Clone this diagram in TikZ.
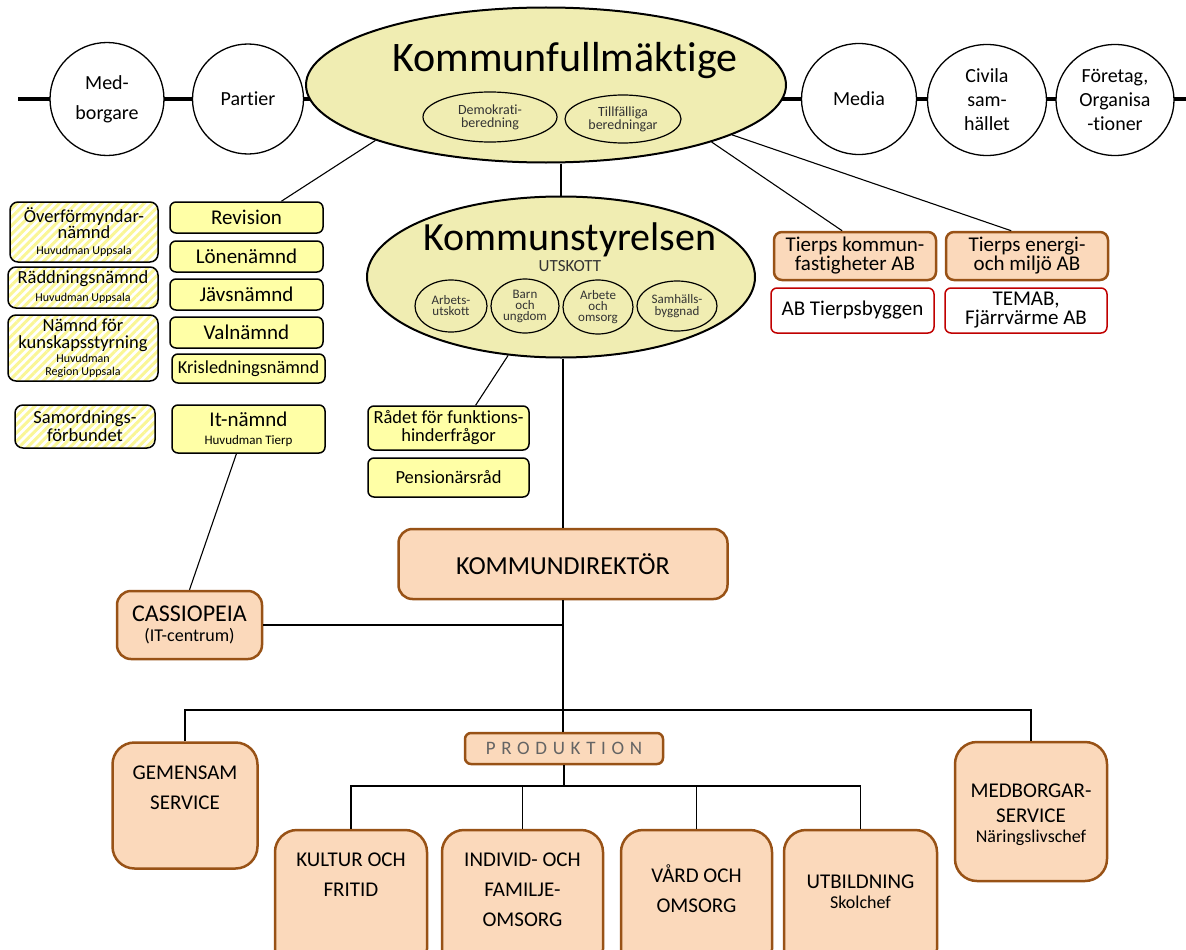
\documentclass[tikz,border=0pt]{standalone}
\usepackage{fontspec}
\setmainfont{Carlito}[Ligatures=NoCommon]
\usepackage{tikz}
\usetikzlibrary{shapes.geometric,patterns.meta}
\pgfdeclarelayer{background}
\pgfsetlayers{background,main}

\newcommand{\fsz}[2]{\fontsize{#1}{#2}\selectfont}

\definecolor{kfyellow}{RGB}{240,237,178}
\definecolor{boxyellow}{RGB}{255,255,166}
\definecolor{stripeyellow}{RGB}{250,246,150}
\definecolor{peach}{RGB}{251,217,187}
\definecolor{orgbrown}{RGB}{152,82,22}
\definecolor{subred}{RGB}{192,0,0}
\definecolor{prodgray}{RGB}{100,100,100}

\tikzdeclarepattern{
  name=hatch,
  type=uncolored,
  bounding box={(0pt,-2pt) and (6pt,2pt)},
  tile size={(6pt,6pt)},
  tile transformation={rotate=45},
  code={\draw[line width=3pt] (0pt,0pt) -- (6pt,0pt);}
}

\tikzset{
  outer/.style={ellipse, draw, line width=1.3pt, fill=white, inner sep=0,
    minimum width=116pt, minimum height=111pt, align=center, font=\fsz{20}{24}},
  council/.style={ellipse, draw, line width=2pt, fill=kfyellow, inner sep=0},
  subcom/.style={ellipse, draw, line width=1.2pt, fill=kfyellow, inner sep=0,
    align=center, text=black!80},
  nbox/.style={rectangle, rounded corners=6pt, draw, line width=1.5pt, fill=boxyellow,
    minimum width=153pt, minimum height=31pt, inner sep=0, align=center, font=\fsz{21}{21}},
  hatchbox/.style={rectangle, rounded corners=8pt, draw, line width=1.5pt,
    pattern=hatch, pattern color=stripeyellow, minimum width=150pt, inner sep=0,
    align=center, font=\fsz{18.5}{16.5}},
  orgbox/.style={rectangle, rounded corners=10pt, draw=orgbrown, line width=2.5pt,
    fill=peach, inner sep=0, align=center},
  unitbox/.style={orgbox, rounded corners=22pt, minimum height=141pt},
  subsid/.style={rectangle, rounded corners=6pt, draw=subred, line width=1.5pt, fill=white,
    minimum width=162pt, minimum height=45pt, inner sep=0, align=center, font=\fsz{21}{19}},
  unittext/.style={align=center, font=\fsz{21}{30}},
  link/.style={line width=1.1pt}
}

\begin{document}
\begin{tikzpicture}[x=1pt,y=-1pt]
\useasboundingbox (0,0) rectangle (1186,950);
\clip (0,0) rectangle (1186,950);

\coordinate (lstart) at (18,99);
\coordinate (rend) at (1186,99);
\node[outer, minimum width=114pt, minimum height=113pt, font=\fsz{20}{30}] (medb) at (107,99) {Med-\\borgare};
\node[outer, minimum width=111pt, minimum height=110pt] (part) at (248,99) {Partier};
\node[outer, minimum width=115pt] (media) at (859,99) {Media};
\node[outer, minimum width=119pt] (civ) at (987,100) {Civila\\sam-\\hället};
\node[outer, minimum width=118pt] (ftg) at (1115,100) {Företag,\\Organisa\\-tioner};

\node[council, minimum width=480pt, minimum height=155pt] (kf) at (546,85) {};
\node[anchor=base, font=\fsz{42}{42}] (kf-title) at (565,72) {Kommunfullmäktige};
\node[subcom, minimum width=134pt, minimum height=50pt, font=\fsz{14}{13}] (demo) at (490,117) {Demokrati-\\beredning};
\node[subcom, minimum width=116pt, minimum height=48pt, font=\fsz{14}{13}] (tillf) at (623,119) {Tillfälliga\\beredningar};

\node[council, minimum width=388pt, minimum height=161pt] (ks) at (561,277) {};
\node[anchor=base, font=\fsz{40}{40}] (ks-title) at (570,250) {Kommunstyrelsen};
\node[anchor=base, font=\fsz{17}{17}, text=black!80] (ks-sub) at (570,271) {UTSKOTT};
\node[subcom, minimum width=72pt, minimum height=52pt, font=\fsz{13}{11}] (arbu) at (451,306) {Arbets-\\utskott};
\node[subcom, minimum width=68pt, minimum height=54pt, font=\fsz{13}{11}] (barn) at (525,306) {Barn\\och\\ungdom};
\node[subcom, minimum width=70pt, minimum height=54pt, font=\fsz{13}{11}] (arbo) at (598,307) {Arbete\\och\\omsorg};
\node[subcom, minimum width=80pt, minimum height=50pt, font=\fsz{13}{12}] (samh) at (677,306) {Samhälls-\\byggnad};

% gemensamma naemnder
\node[hatchbox, minimum width=148pt, minimum height=60pt] (ofm) at (84,232) {Överförmyndar-\\nämnd\\[-1pt]{\fsz{12}{12}Huvudman Uppsala}};
\node[hatchbox, minimum height=41pt, font=\fsz{18.5}{18}] (radn) at (83,287.5) {Räddningsnämnd\\{\fsz{12}{12}Huvudman Uppsala}};
\node[hatchbox, minimum height=66pt, font=\fsz{18.5}{17}] (nks) at (83,348) {Nämnd för\\kunskapsstyrning\\[-3pt]{\fsz{12}{12}Huvudman}\\[-4pt]{\fsz{12}{12}Region Uppsala}};
\node[hatchbox, minimum width=140pt, minimum height=43pt, font=\fsz{18.5}{18}] (samf) at (85,426.5) {Samordnings-\\förbundet};

\node[nbox] (rev) at (246.5,217.5) {Revision};
\node[nbox] (lon) at (246.5,256.5) {Lönenämnd};
\node[nbox] (jav) at (246.5,294.5) {Jävsnämnd};
\node[nbox] (valn) at (246.5,332.5) {Valnämnd};
\node[nbox, minimum height=29pt, font=\fsz{18.3}{18}] (kris) at (248.5,368.5) {Krisledningsnämnd};
\node[nbox, minimum height=48pt] (itn) at (248.5,429) {It-nämnd\\[-3pt]{\fsz{13}{13}Huvudman Tierp}};

\node[nbox, minimum width=161pt, minimum height=44pt, font=\fsz{18.5}{18}] (radet) at (448.5,428) {Rådet för funktions-\\hinderfrågor};
\node[nbox, minimum width=161pt, minimum height=39pt, font=\fsz{18.5}{18}] (pens) at (448.5,477.5) {Pensionärsråd};

% bolag
\node[orgbox, rounded corners=8pt, minimum width=162pt, minimum height=48pt, font=\fsz{21}{19}] (tkf) at (855,256) {Tierps kommun-\\fastigheter AB};
\node[orgbox, rounded corners=8pt, minimum width=162pt, minimum height=48pt, font=\fsz{21}{19}] (ten) at (1027,256) {Tierps energi-\\och miljö AB};
\node[subsid, minimum width=163pt] (tby) at (852.5,310.5) {AB Tierpsbyggen};
\node[subsid] (temab) at (1026,310.5) {TEMAB,\\Fjärrvärme AB};

% foervaltning
\node[orgbox, rounded corners=14pt, minimum width=329pt, minimum height=70pt, font=\fsz{26}{26}] (kd) at (563,564) {KOMMUNDIREKTÖR};
\node[orgbox, rounded corners=14pt, minimum width=145pt, minimum height=68pt, font=\fsz{24}{22}] (cas) at (189.5,625) {CASSIOPEIA\\[-2pt]{\fsz{18}{18}(IT-centrum)}};
\node[orgbox, rounded corners=6pt, minimum width=198pt, minimum height=31pt, font=\fsz{19}{19}, text=prodgray] (prod) at (564,748.5) {\addfontfeature{LetterSpace=30}PRODUKTION};

\node[unitbox, minimum width=145pt, minimum height=126pt] (gem) at (185,805.5) {};
\node[unitbox, minimum width=152pt, minimum height=139pt] (medsv) at (1031,811.5) {};
\node[unitbox, minimum width=152pt] (kul) at (351,900.5) {};
\node[unitbox, minimum width=161pt] (ind) at (522.5,900.5) {};
\node[unitbox, minimum width=151pt] (vard) at (696.5,900.5) {};
\node[unitbox, minimum width=153pt] (utb) at (860.5,900.5) {};
\node[unittext] (gem-txt) at (185,788) {GEMENSAM\\SERVICE};
\node[unittext, font=\fsz{21}{25}] (medsv-txt) at (1031,815) {MEDBORGAR-\\SERVICE\\[-5pt]{\fsz{18}{18}Näringslivschef}};
\node[unittext] (kul-txt) at (351,875) {KULTUR OCH\\FRITID};
\node[unittext] (ind-txt) at (522.5,890) {INDIVID- OCH\\FAMILJE-\\OMSORG};
\node[unittext] (vard-txt) at (696.5,889) {VÅRD OCH\\OMSORG};
\node[unittext, font=\fsz{21}{25}] (utb-txt) at (860.5,892) {UTBILDNING\\[-5pt]{\fsz{18}{18}Skolchef}};

\coordinate (split) at (563,710);
\coordinate (pbar) at (564,786);

\draw[link] (kf.198) -- (rev.25);
\draw[link] (kf.south -| ks.north) -- (ks.north);
\draw[link] (kf.-19) -- (tkf.117);
\draw[link] (kf.-15) -- (ten.122);
\draw[link] (ks.236) -- (radet.40);
\draw[link] (ks.south -| kd.north) -- (kd.north);
\draw[link] (itn.244) -- (cas.north);
\draw[link] (cas.east) -- (cas.east -| kd.south);
\draw[link] (kd.south) -- (kd.south |- prod.north);
\draw[link] (gem.north) |- (split) -| (medsv.north);
\draw[link] (prod.south) -- (pbar);
\draw[link] (kul.north) |- (pbar) -| (utb.north);
\draw[link] (ind.north) -- (ind.north |- pbar);
\draw[link] (vard.north) -- (vard.north |- pbar);

  \begin{pgfonlayer}{background}
    \draw[line width=4pt] (lstart) -- (rend);
  \end{pgfonlayer}
\end{tikzpicture}
\end{document}
